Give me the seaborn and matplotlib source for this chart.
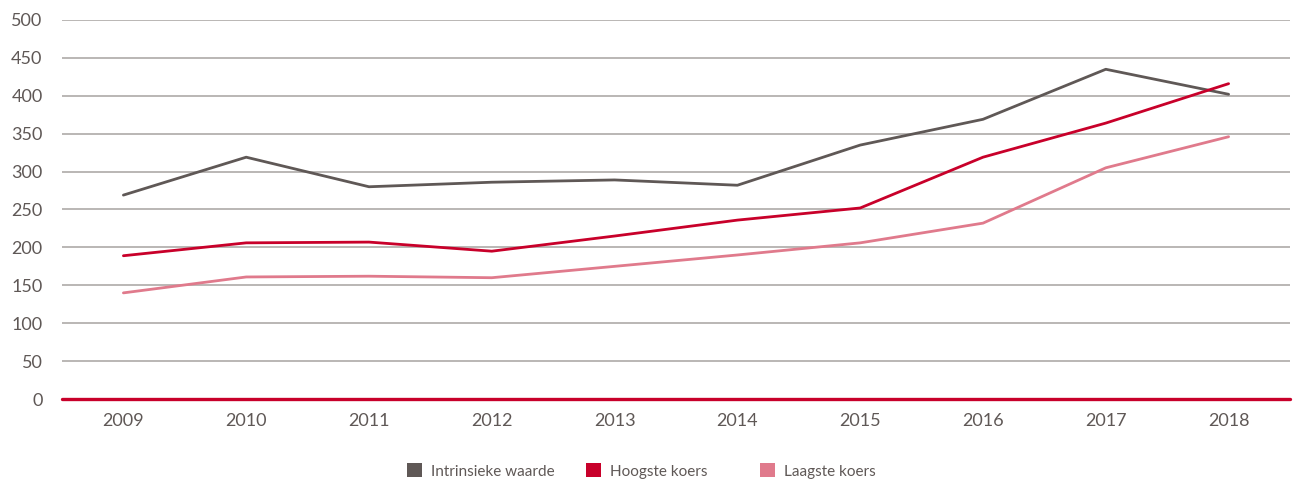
import matplotlib
matplotlib.use("Agg")
import matplotlib.pyplot as plt
import seaborn as sns
import pandas as pd
from matplotlib.patches import Patch

years = ["2009", "2010", "2011", "2012", "2013", "2014", "2015", "2016", "2017", "2018"]
intrinsieke = [269, 319, 280, 286, 289, 282, 335, 369, 435, 402]
hoogste = [189, 206, 207, 195, 215, 236, 252, 319, 364, 416]
laagste = [140, 161, 162, 160, 175, 190, 206, 232, 305, 346]
series_names = ["Intrinsieke waarde", "Hoogste koers", "Laagste koers"]
colors = ["#5f5856", "#c8002a", "#e07a8c"]
yticks = [0, 50, 100, 150, 200, 250, 300, 350, 400, 450, 500]

df = pd.DataFrame({"year": years * 3,
                   "value": intrinsieke + hoogste + laagste,
                   "series": [series_names[0]] * 10 + [series_names[1]] * 10 + [series_names[2]] * 10})

sns.set_theme(style="white")
plt.rcParams["font.family"] = ["Lato", "DejaVu Sans"]
text_color = "#5f5856"

fig = plt.figure(figsize=(12.95, 4.95), dpi=100)
ax = fig.add_axes([62 / 1295, 1 - 399 / 495, (1290 - 62) / 1295, (399 - 20) / 495])

for y in yticks[1:]:
    ax.axhline(y, color="#a7a3a1", lw=1.1, zorder=0)
ax.axhline(0, color="#c8002a", lw=2.4, zorder=3, clip_on=False)

sns.lineplot(data=df, x="year", y="value", hue="series", palette=colors,
             hue_order=series_names, linewidth=2, ax=ax, legend=False, sort=False)

ax.set_xlim(-0.5, 9.5)
ax.set_ylim(0, 500)
ax.set_yticks(yticks)
ax.set_xlabel("")
ax.set_ylabel("")
for s in ax.spines.values():
    s.set_visible(False)
ax.tick_params(axis="both", length=0, labelsize=13, labelcolor=text_color)
ax.tick_params(axis="y", pad=14)
ax.tick_params(axis="x", pad=10)

legend_x = [407, 586, 760]
for name, c, lx in zip(series_names, colors, legend_x):
    leg = fig.legend([Patch(facecolor=c, edgecolor="none")], [name], loc="center left",
                     bbox_to_anchor=(lx / 1295, 1 - 471 / 495), frameon=False, fontsize=11,
                     labelcolor=text_color, handlelength=1.0, handleheight=1.0,
                     handletextpad=0.6, borderpad=0, borderaxespad=0)

fig.savefig("out.png", dpi=100)
